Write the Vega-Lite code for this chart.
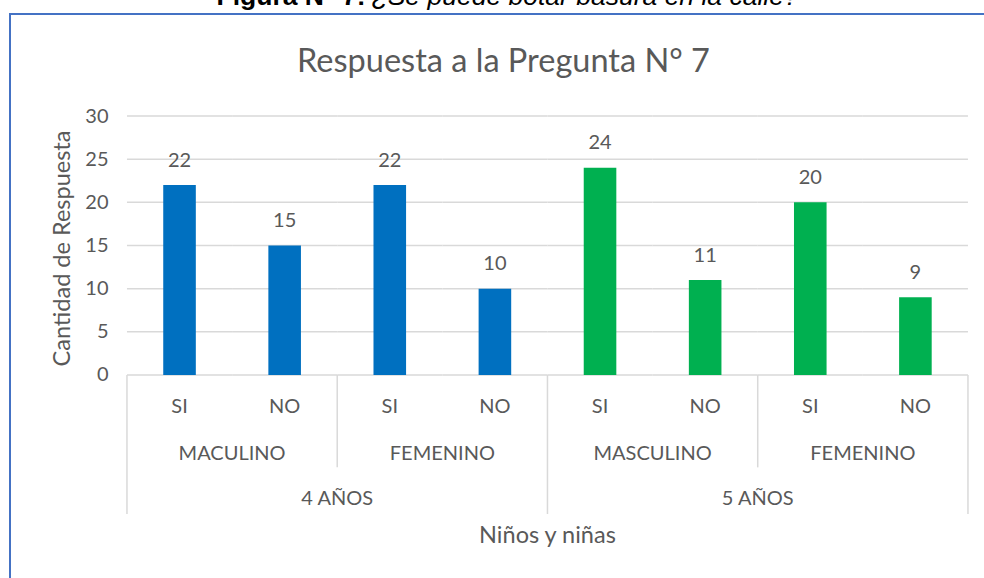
{
  "$schema": "https://vega.github.io/schema/vega-lite/v6.json",
  "width": 990,
  "height": 576,
  "autosize": {"type": "none"},
  "padding": {"left": 10, "top": 14, "right": -16, "bottom": -12},
  "background": "white",
  "config": {
    "view": {"stroke": "#4472C4", "strokeWidth": 2},
    "font": "Lato",
    "text": {"font": "Lato", "fontSize": 20, "color": "#595959"}
  },
  "data": {
    "values": [
      {"cat": "4 AÑOS / MACULINO / SI", "edad": "4 AÑOS", "genero": "MACULINO", "resp": "SI", "valor": 22},
      {"cat": "4 AÑOS / MACULINO / NO", "edad": "4 AÑOS", "genero": "MACULINO", "resp": "NO", "valor": 15},
      {"cat": "4 AÑOS / FEMENINO / SI", "edad": "4 AÑOS", "genero": "FEMENINO", "resp": "SI", "valor": 22},
      {"cat": "4 AÑOS / FEMENINO / NO", "edad": "4 AÑOS", "genero": "FEMENINO", "resp": "NO", "valor": 10},
      {"cat": "5 AÑOS / MASCULINO / SI", "edad": "5 AÑOS", "genero": "MASCULINO", "resp": "SI", "valor": 24},
      {"cat": "5 AÑOS / MASCULINO / NO", "edad": "5 AÑOS", "genero": "MASCULINO", "resp": "NO", "valor": 11},
      {"cat": "5 AÑOS / FEMENINO / SI", "edad": "5 AÑOS", "genero": "FEMENINO", "resp": "SI", "valor": 20},
      {"cat": "5 AÑOS / FEMENINO / NO", "edad": "5 AÑOS", "genero": "FEMENINO", "resp": "NO", "valor": 9}
    ]
  },
  "layer": [
    {
      "mark": {"type": "rule", "color": "#D9D9D9", "strokeWidth": 1.5},
      "encoding": {
        "x": {"field": "cat", "type": "nominal", "bandPosition": 0, "axis": null,
          "scale": {"type": "band", "domain": ["4 AÑOS / MACULINO / SI", "4 AÑOS / MACULINO / NO", "4 AÑOS / FEMENINO / SI", "4 AÑOS / FEMENINO / NO", "5 AÑOS / MASCULINO / SI", "5 AÑOS / MASCULINO / NO", "5 AÑOS / FEMENINO / SI", "5 AÑOS / FEMENINO / NO"], "paddingInner": 0, "paddingOuter": 0.7087, "align": 0.785}},
        "x2": {"field": "cat", "bandPosition": 1},
        "y": {"datum": 0, "type": "quantitative",
          "scale": {"domain": [-24.904, 41.815], "nice": false, "zero": false},
          "axis": {"values": [0, 5, 10, 15, 20, 25, 30], "grid": false, "domain": false, "ticks": false, "labelPadding": 0, "offset": -98, "labelFont": "Lato", "labelFontSize": 20, "labelColor": "#595959", "title": "Cantidad de Respuesta", "titleFont": "Lato", "titleFontSize": 23.5, "titleFontWeight": "normal", "titleColor": "#595959", "titleX": -46, "titleY": 234, "titleAngle": -90, "titleAlign": "center", "titleBaseline": "middle"}}
      }
    },
    {"mark": {"type": "rule", "color": "#D9D9D9", "strokeWidth": 1.5},
      "encoding": {"x": {"field": "cat", "type": "nominal", "bandPosition": 0}, "x2": {"field": "cat", "bandPosition": 1}, "y": {"datum": 5, "type": "quantitative"}}},
    {"mark": {"type": "rule", "color": "#D9D9D9", "strokeWidth": 1.5},
      "encoding": {"x": {"field": "cat", "type": "nominal", "bandPosition": 0}, "x2": {"field": "cat", "bandPosition": 1}, "y": {"datum": 10, "type": "quantitative"}}},
    {"mark": {"type": "rule", "color": "#D9D9D9", "strokeWidth": 1.5},
      "encoding": {"x": {"field": "cat", "type": "nominal", "bandPosition": 0}, "x2": {"field": "cat", "bandPosition": 1}, "y": {"datum": 15, "type": "quantitative"}}},
    {"mark": {"type": "rule", "color": "#D9D9D9", "strokeWidth": 1.5},
      "encoding": {"x": {"field": "cat", "type": "nominal", "bandPosition": 0}, "x2": {"field": "cat", "bandPosition": 1}, "y": {"datum": 20, "type": "quantitative"}}},
    {"mark": {"type": "rule", "color": "#D9D9D9", "strokeWidth": 1.5},
      "encoding": {"x": {"field": "cat", "type": "nominal", "bandPosition": 0}, "x2": {"field": "cat", "bandPosition": 1}, "y": {"datum": 25, "type": "quantitative"}}},
    {"mark": {"type": "rule", "color": "#D9D9D9", "strokeWidth": 1.5},
      "encoding": {"x": {"field": "cat", "type": "nominal", "bandPosition": 0}, "x2": {"field": "cat", "bandPosition": 1}, "y": {"datum": 30, "type": "quantitative"}}},
    {
      "transform": [{"filter": "datum.genero == 'FEMENINO' && datum.resp == 'SI'"}],
      "mark": {"type": "rule", "color": "#D9D9D9", "strokeWidth": 1.5},
      "encoding": {"x": {"field": "cat", "type": "nominal", "bandPosition": 0}, "y": {"datum": 0, "type": "quantitative"}, "y2": {"datum": -10.7}}
    },
    {
      "transform": [{"filter": "datum.genero != 'FEMENINO' && datum.resp == 'SI'"}],
      "mark": {"type": "rule", "color": "#D9D9D9", "strokeWidth": 1.5},
      "encoding": {"x": {"field": "cat", "type": "nominal", "bandPosition": 0}, "y": {"datum": 0, "type": "quantitative"}, "y2": {"datum": -16.1}}
    },
    {
      "transform": [{"filter": "datum.edad == '5 AÑOS' && datum.genero == 'FEMENINO' && datum.resp == 'NO'"}],
      "mark": {"type": "rule", "color": "#D9D9D9", "strokeWidth": 1.5},
      "encoding": {"x": {"field": "cat", "type": "nominal", "bandPosition": 1}, "y": {"datum": 0, "type": "quantitative"}, "y2": {"datum": -16.1}}
    },
    {
      "mark": {"type": "bar", "width": {"band": 0.31}},
      "encoding": {
        "x": {"field": "cat", "type": "nominal"},
        "y": {"field": "valor", "type": "quantitative"},
        "y2": {"datum": 0},
        "color": {"field": "edad", "type": "nominal", "scale": {"domain": ["4 AÑOS", "5 AÑOS"], "range": ["#0070C0", "#00B050"]}, "legend": null}
      }
    },
    {
      "mark": {"type": "text", "baseline": "alphabetic", "dy": -18.5, "fontSize": 20, "color": "#595959"},
      "encoding": {
        "x": {"field": "cat", "type": "nominal"},
        "y": {"field": "valor", "type": "quantitative"},
        "text": {"field": "valor", "type": "quantitative"}
      }
    },
    {
      "mark": {"type": "text", "baseline": "middle", "fontSize": 20, "color": "#595959"},
      "encoding": {
        "x": {"field": "cat", "type": "nominal"},
        "y": {"datum": -3.71, "type": "quantitative"},
        "text": {"field": "resp", "type": "nominal"}
      }
    },
    {
      "transform": [{"filter": "datum.resp == 'SI'"}],
      "mark": {"type": "text", "baseline": "middle", "fontSize": 20, "color": "#595959"},
      "encoding": {
        "x": {"field": "cat", "type": "nominal", "bandPosition": 1},
        "y": {"datum": -9.1, "type": "quantitative"},
        "text": {"field": "genero", "type": "nominal"}
      }
    },
    {
      "transform": [{"filter": "datum.genero == 'FEMENINO' && datum.resp == 'SI'"}],
      "mark": {"type": "text", "baseline": "middle", "fontSize": 20, "color": "#595959"},
      "encoding": {
        "x": {"field": "cat", "type": "nominal", "bandPosition": 0},
        "y": {"datum": -14.4, "type": "quantitative"},
        "text": {"field": "edad", "type": "nominal"}
      }
    },
    {
      "transform": [{"filter": "datum.cat == '5 AÑOS / MASCULINO / SI'"}],
      "mark": {"type": "text", "baseline": "middle", "fontSize": 23.5, "color": "#595959"},
      "encoding": {
        "x": {"field": "cat", "type": "nominal", "bandPosition": 0},
        "y": {"datum": -18.6, "type": "quantitative"},
        "text": {"value": "Niños y niñas"}
      }
    },
    {
      "transform": [{"filter": "datum.cat == '5 AÑOS / MASCULINO / SI'"}],
      "mark": {"type": "text", "baseline": "alphabetic", "fontSize": 32.5, "color": "#595959", "dx": -44},
      "encoding": {
        "x": {"field": "cat", "type": "nominal", "bandPosition": 0},
        "y": {"datum": 35.1, "type": "quantitative"},
        "text": {"value": "Respuesta a la Pregunta N° 7"}
      }
    },
    {
      "transform": [{"filter": "datum.cat == '5 AÑOS / MASCULINO / SI'"}],
      "mark": {"type": "text", "baseline": "alphabetic", "align": "right", "font": "Liberation Sans", "fontWeight": "bold", "fontSize": 26.5, "color": "#000000", "dx": -182},
      "encoding": {
        "x": {"field": "cat", "type": "nominal", "bandPosition": 0},
        "y": {"datum": 42.9, "type": "quantitative"},
        "text": {"value": "Figura N° 7:"}
      }
    },
    {
      "transform": [{"filter": "datum.cat == '5 AÑOS / MASCULINO / SI'"}],
      "mark": {"type": "text", "baseline": "alphabetic", "align": "left", "font": "Liberation Sans", "fontStyle": "italic", "fontSize": 26.5, "color": "#000000", "dx": -176},
      "encoding": {
        "x": {"field": "cat", "type": "nominal", "bandPosition": 0},
        "y": {"datum": 42.9, "type": "quantitative"},
        "text": {"value": "¿Se puede botar basura en la calle?"}
      }
    }
  ]
}
